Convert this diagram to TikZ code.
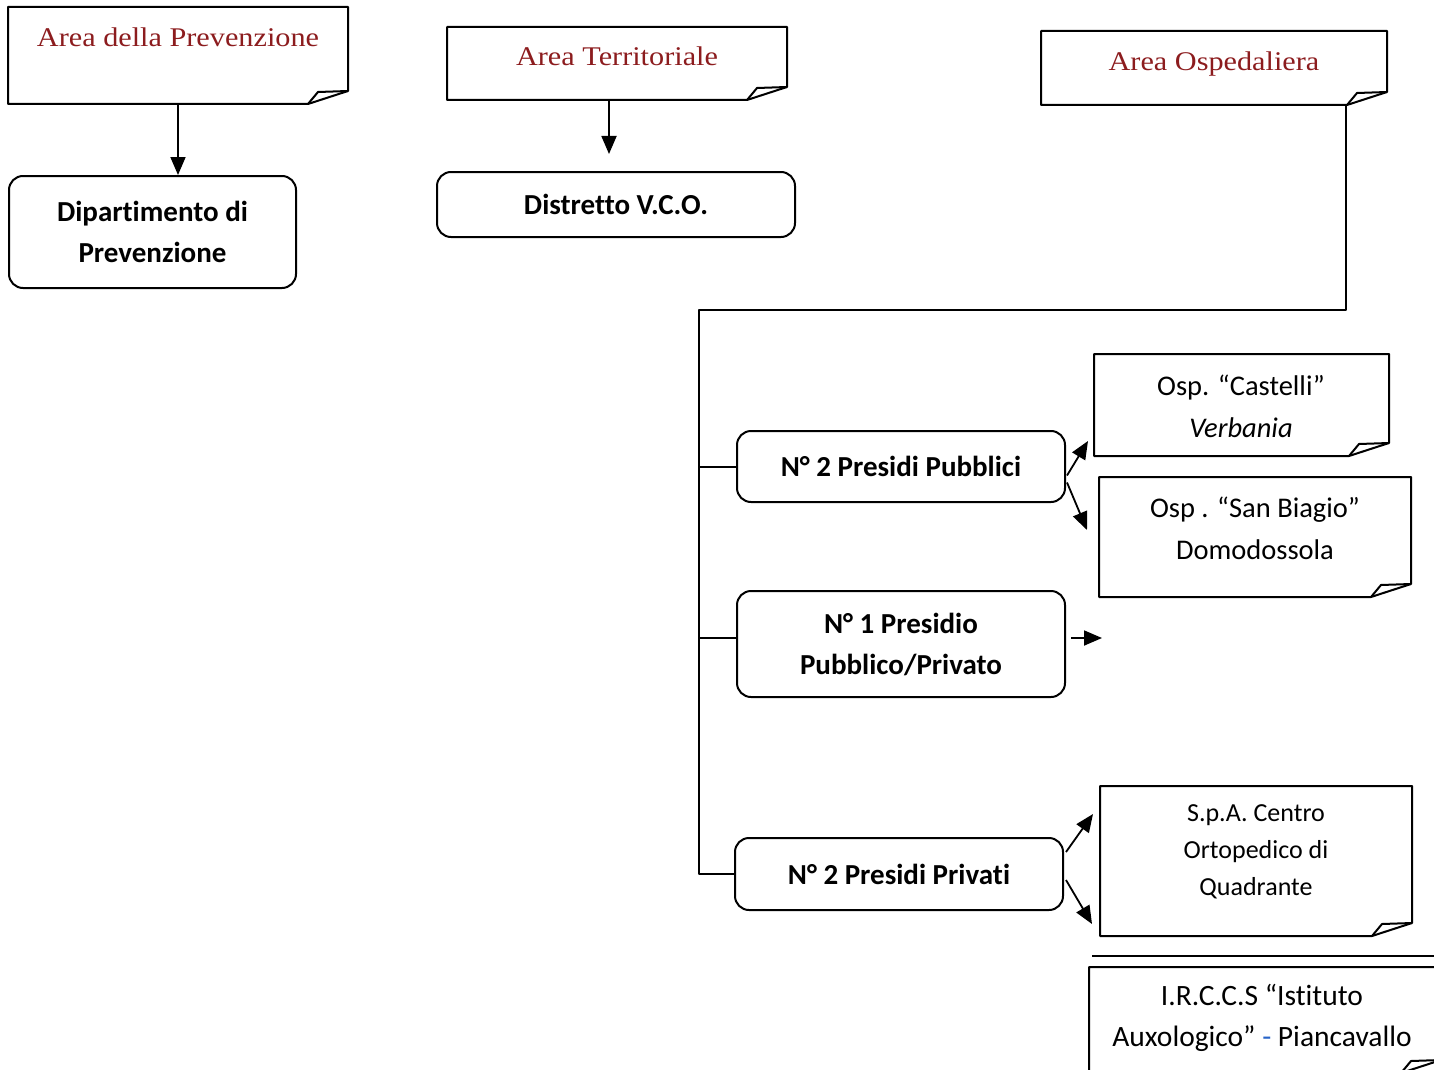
\documentclass[tikz,border=0pt]{standalone}
\usepackage{fontspec}
\setmainfont{Carlito}[Ligatures=NoCommon]
\newfontfamily\areafont[FakeStretch=1.12]{Liberation Serif}
\usetikzlibrary{arrows.meta,calc}
\definecolor{areared}{RGB}{140,28,30}
\definecolor{dashblue}{RGB}{40,100,200}
\newcommand\foldframe[1]{%
  \draw (#1.north west) -- (#1.north east) -- ($(#1.south east)+(0,-13)$)
     -- ($(#1.south east)+(-40,0)$) -- (#1.south west) -- cycle;
  \draw ($(#1.south east)+(-40,0)$) -- ($(#1.south east)+(-30,-12)$) -- ($(#1.south east)+(0,-13)$);
}
\begin{document}
\begin{tikzpicture}[x=1pt,y=-1pt,line width=2pt,line join=round,
  areabox/.style={inner sep=0pt,font=\areafont\fontsize{27}{30}\selectfont,text=areared},
  roundbox/.style={draw,rounded corners=14pt,inner sep=0pt,align=center,
     font=\fontsize{29}{41}\selectfont\bfseries},
  frame/.style={inner sep=0pt,draw=none},
  foldtxt/.style={inner sep=0pt,align=center,font=\fontsize{28.5}{42}\selectfont},
  arr/.style={line width=1.8pt,-{Triangle[length=18pt,width=15pt]}}]
\useasboundingbox (0,0) rectangle (1434,1070);
\clip (0,0) rectangle (1434,1070);

% area boxes
\node[areabox,anchor=north west,minimum width=338pt,text height=39pt,text depth=56pt] (a1) at (8,7) {Area della Prevenzione};
\node[areabox,anchor=north west,minimum width=338pt,text height=38pt,text depth=33pt] (a2) at (447,27) {Area Territoriale};
\node[areabox,anchor=north west,minimum width=344pt,text height=39pt,text depth=33pt] (a3) at (1041,31) {Area Ospedaliera};
\foldframe{a1}
\foldframe{a2}
\foldframe{a3}

% rounded boxes
\node[roundbox,minimum width=287pt,minimum height=112pt] (r1) at (152.5,232) {Dipartimento di\\Prevenzione};
\node[roundbox,minimum width=358pt,minimum height=65pt] (r2) at (616,204.5) {Distretto V.C.O.};
\node[roundbox,minimum width=328pt,minimum height=71pt] (r3) at (901,466.5) {N° 2 Presidi Pubblici};
\node[roundbox,minimum width=328pt,minimum height=106pt] (r4) at (901,644) {N° 1 Presidio\\Pubblico/Privato};
\node[roundbox,minimum width=328pt,minimum height=72pt] (r5) at (899,874) {N° 2 Presidi Privati};

% folded boxes
\node[frame,minimum width=293pt,minimum height=100pt] (f1) at (1241.5,405) {};
\node[frame,minimum width=310pt,minimum height=118pt] (f2) at (1255,537) {};
\node[frame,minimum width=310pt,minimum height=148pt] (f3) at (1256,861) {};
\node[frame,minimum width=350pt,minimum height=104pt] (f4) at (1265,1020) {};
\foldframe{f1}
\foldframe{f2}
\foldframe{f3}
\foldframe{f4}
\draw ($(f4.north west)+(3,-11)$) -- ($(f4.north east)+(0,-11)$);

\node[foldtxt] (f1t) at (1241,406) {Osp. “Castelli”\\\textit{Verbania}};
\node[foldtxt] (f2t) at (1255,528.5) {Osp . “San Biagio”\\Domodossola};
\node[foldtxt,font=\fontsize{26}{37}\selectfont] (f3t) at (1256,852) {S.p.A. Centro\\Ortopedico di\\Quadrante};
\node[foldtxt,font=\fontsize{29.5}{41}\selectfont] (f4t) at (1262,1018) {I.R.C.C.S “Istituto\\Auxologico” {\color{dashblue}-} Piancavallo};

% connectors
\draw[arr] (a1.south) -- (a1.south |- r1.north);
\draw[arr,shorten >=17pt] ($(a2.south)+(-8,0)$) -- ($(a2.south |- r2.north)+(-8,0)$);

\coordinate (t) at (699,310);
\draw ($(a3.south east)+(-41,0)$) |- (t) |- (r5.west);
\draw (t |- r3.west) -- (r3.west);
\coordinate (r4in) at ($(r4.west)+(0,-6)$);
\draw (t |- r4in) -- (r4in);

\draw[arr] ($(r3.east)+(1,9)$) -- ($(f1.south west)+(-6,-15)$);
\draw[arr] ($(r3.east)+(1,16)$) -- ($(f2.west)+(-12,-7)$);
\coordinate (r4tip) at ($(r4.east)+(36,-6)$);
\draw[arr] ($(r4.east)+(5,-6)$) -- (r4tip);
\draw[arr] ($(r5.east)+(2,-22)$) -- ($(f3.north west)+(-7,28)$);
\draw[arr] ($(r5.east)+(2,6)$) -- ($(f3.south west)+(-8,-12)$);
\end{tikzpicture}
\end{document}
